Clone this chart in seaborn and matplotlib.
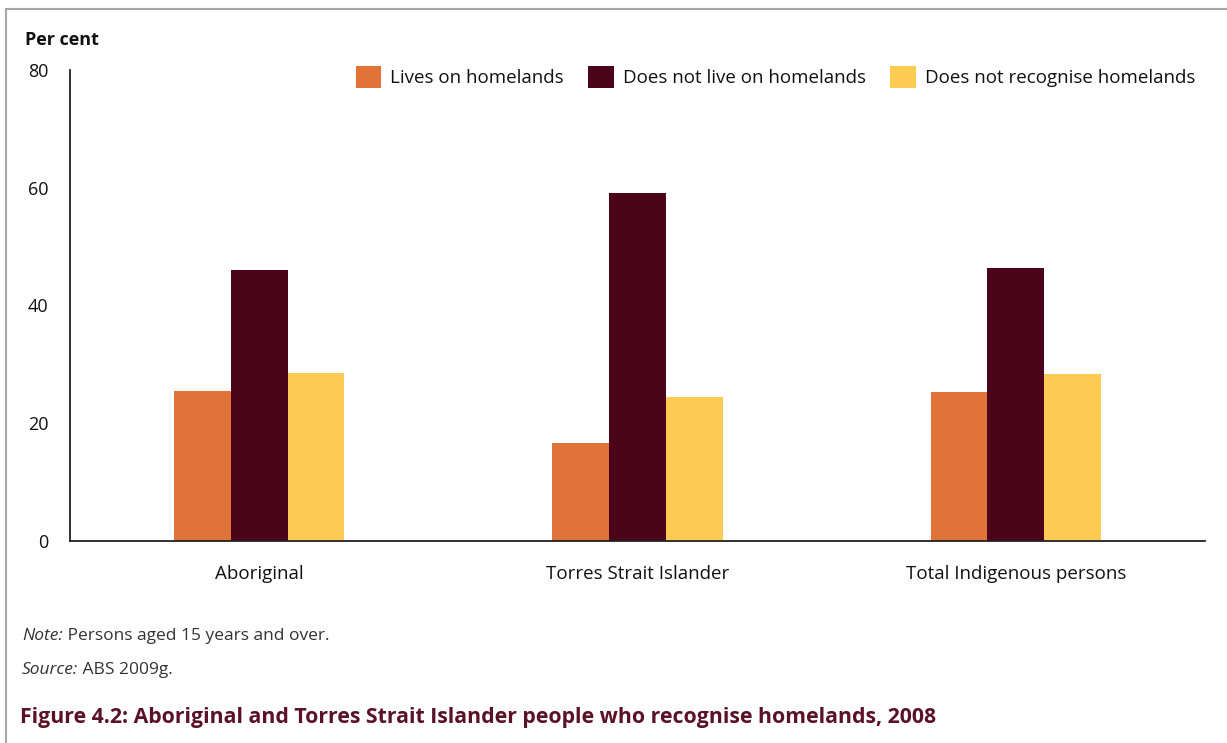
import pandas as pd
import seaborn as sns
import matplotlib.pyplot as plt
from matplotlib.lines import Line2D

# data
groups = ['Aboriginal', 'Torres Strait Islander', 'Total Indigenous persons']
series = ['Lives on homelands', 'Does not live on homelands', 'Does not recognise homelands']
lives_on = [25.5, 16.6, 25.3]
not_live_on = [46.0, 59.1, 46.4]
not_recognise = [28.5, 24.5, 28.4]
colours = ['#E07338', '#4B0419', '#FECB52']

rows = []
for name, vals in zip(series, [lives_on, not_live_on, not_recognise]):
    for g, v in zip(groups, vals):
        rows.append({'group': g, 'series': name, 'value': v})
df = pd.DataFrame(rows)

sns.set_style('white')
plt.rcParams['font.family'] = ['Open Sans', 'DejaVu Sans']
plt.rcParams['text.color'] = '#111111'

fig = plt.figure(figsize=(12.27, 7.43), dpi=100)
ax = fig.add_axes([70 / 1227, 1 - 541 / 743, 1135 / 1227, 471 / 743])

sns.barplot(data=df, x='group', y='value', hue='series', order=groups,
            hue_order=series, palette=colours, width=0.45, saturation=1,
            linewidth=0, ax=ax, legend=True)

ax.set_ylim(0, 80)
ax.set_xlim(-0.5, 2.5)
ax.set_yticks([0, 20, 40, 60, 80])
ax.set_xlabel('')
ax.set_ylabel('')
for s in ['top', 'right']:
    ax.spines[s].set_visible(False)
for s in ['left', 'bottom']:
    ax.spines[s].set_color('#222222')
    ax.spines[s].set_linewidth(1.3)
ax.tick_params(axis='y', length=8.5, width=1.3, color='#222222', pad=7, labelsize=13,
               labelcolor='#111111')
ax.tick_params(axis='x', length=0, pad=17, labelsize=13.5, labelcolor='#111111')

ax.legend(loc='center right', bbox_to_anchor=(1203 / 1227, 1 - 77 / 743),
          bbox_transform=fig.transFigure, ncol=3, frameon=False, fontsize=13.5,
          handlelength=1.35, handleheight=1.35, handletextpad=0.5, columnspacing=1.3,
          borderaxespad=0)

fig.text(25 / 1227, 1 - 40 / 743, 'Per cent', fontsize=13, fontweight='bold', va='center')

# note and source lines
t1 = fig.text(22 / 1227, 1 - 636 / 743, 'Note:', fontsize=12.5, style='italic', color='#333333', va='center')
ax.annotate(' Persons aged 15 years and over.', xy=(1, 0.5), xycoords=t1, fontsize=12.5,
            color='#333333', va='center', ha='left')
t2 = fig.text(22 / 1227, 1 - 670 / 743, 'Source:', fontsize=12.5, style='italic', color='#333333', va='center')
ax.annotate(' ABS 2009g.', xy=(1, 0.5), xycoords=t2, fontsize=12.5,
            color='#333333', va='center', ha='left')

fig.text(20 / 1227, 1 - 717 / 743,
         'Figure 4.2: Aboriginal and Torres Strait Islander people who recognise homelands, 2008',
         fontsize=15.3, fontweight='bold', color='#5B1127', va='center')

# grey frame at top and left
fig.add_artist(Line2D([6 / 1227, 1], [1 - 9 / 743, 1 - 9 / 743], color='#a8a8a8', lw=1.5))
fig.add_artist(Line2D([6 / 1227, 6 / 1227], [0, 1 - 9 / 743], color='#a8a8a8', lw=1.5))

fig.savefig('out.png', dpi=100)
